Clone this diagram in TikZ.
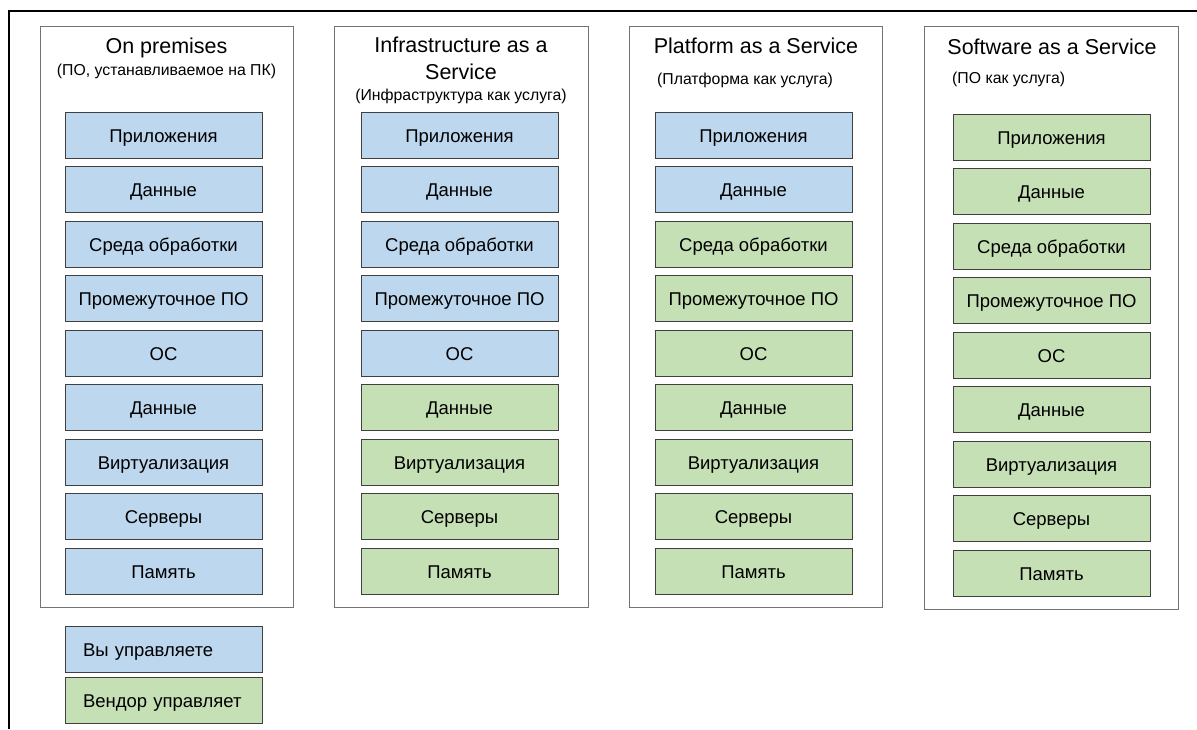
\documentclass[tikz,border=0pt]{standalone}
\usepackage{fontspec}
\setmainfont{Liberation Sans}
\definecolor{youblue}{RGB}{189,215,238}
\definecolor{vendgreen}{RGB}{197,224,180}
\begin{document}
\begin{tikzpicture}[x=1pt, y=-1pt,
  layer/.style={draw=black!75, line width=0.9pt, minimum width=197pt,
    minimum height=46pt, inner sep=0pt, text height=14.4pt, text depth=0pt,
    font=\fontsize{18.5}{20}\selectfont},
  colframe/.style={draw=black!55, line width=1pt},
  coltitle/.style={font=\fontsize{21.5}{26}\selectfont, inner sep=0pt, anchor=base},
  colsub/.style={font=\fontsize{15.8}{18}\selectfont, inner sep=0pt, anchor=base},
  legend/.style={layer, text width=161pt, inner xsep=18pt, align=left}]
  \useasboundingbox (0,0) rectangle (1197,729);

  % Outer frame (top and left edge only)
  \draw[line width=2pt] (1197,11) -- (9,11) -- (9,729);

  % Column frames
  \draw[colframe] (40,26) rectangle (293,607);
  \draw[colframe] (334,26) rectangle (588,607);
  \draw[colframe] (629,26) rectangle (882,607);
  \draw[colframe] (924,26) rectangle (1178,609);

  % Column headings
  \node[coltitle] (t1) at (166.5,53.3) {On premises};
  \node[colsub] (s1) at (166.5,75.5) {(ПО, устанавливаемое на ПК)};
  \node[coltitle] (t2) at (461,52.7) {Infrastructure as a};
  \node[coltitle] (t2b) at (461,79) {Service};
  \node[colsub] (s2) at (461,100) {(Инфраструктура как услуга)};
  \node[coltitle] (t3) at (756,53.3) {Platform as a Service};
  \node[colsub, anchor=base west] (s3) at (657,84) {(Платформа как услуга)};
  \node[coltitle] (t4) at (1052,54) {Software as a Service};
  \node[colsub, anchor=base west] (s4) at (952,83.5) {(ПО как услуга)};

  % Layer stacks: column / box left / y shift / number of blue rows
  \foreach \c/\xb/\dy/\nblue in {1/65/0/9, 2/361/0/5, 3/655/0/2, 4/953/2/0}{
    \foreach \r/\lbl in {
      1/Приложения, 2/Данные, 3/Среда обработки, 4/Промежуточное ПО,
      5/ОС, 6/Данные, 7/Виртуализация, 8/Серверы, 9/Память
    }{
      \pgfmathsetmacro\yy{112 + (\r-1)*54.5 + \dy + 23}
      \pgfmathtruncatemacro\isv{\r>\nblue}
      \ifnum\isv=1 \def\fc{vendgreen}\else\def\fc{youblue}\fi
      \node[layer, fill=\fc] (b\c-\r) at (\xb+98.5,\yy) {\lbl};
    }
  }

  % Legend
  \node[legend, fill=youblue] (you) at (163.5,649.5) {Вы управляете};
  \node[legend, fill=vendgreen] (vendor) at (163.5,700) {Вендор управляет};
\end{tikzpicture}
\end{document}
